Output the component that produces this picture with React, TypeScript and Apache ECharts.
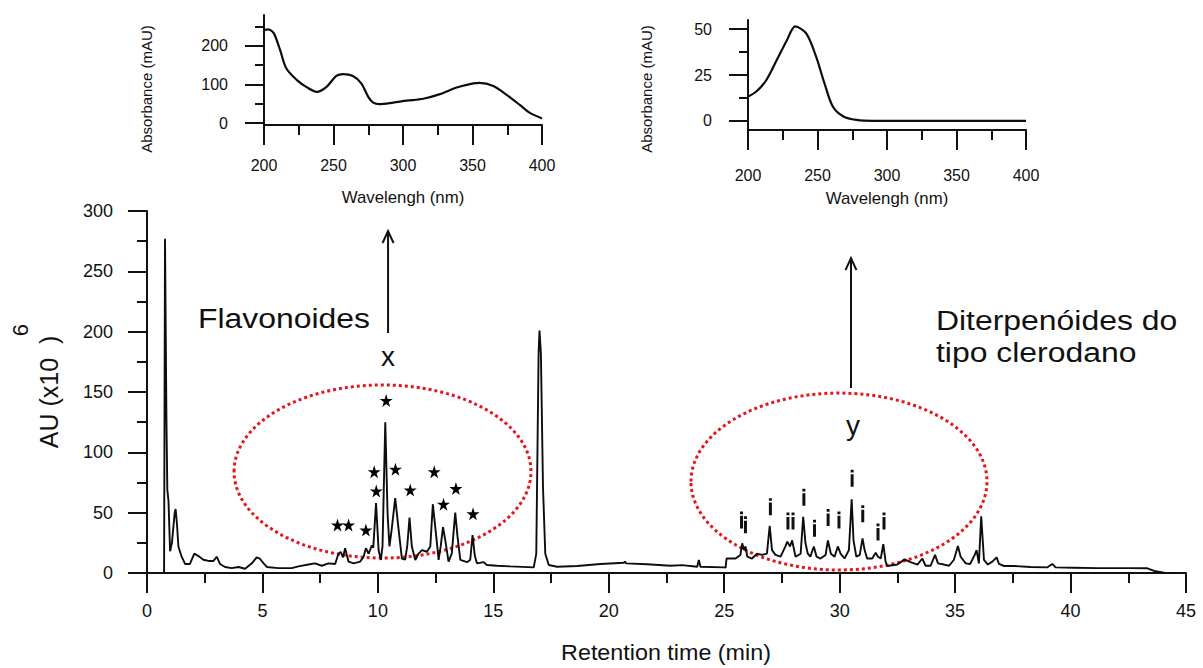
import React, { useEffect, useRef } from "react";
import * as echarts from "echarts";

// ---- Main chromatogram (retention time in min, AU x10^6) ----
const retentionTime = [
  0.74, 0.78, 0.84, 0.88, 0.93, 1.0, 1.08, 1.2, 1.24, 1.3, 1.36, 1.5, 1.65, 1.86, 2.05, 2.23, 2.44, 2.66, 2.88, 3.02,
  3.16, 3.38, 3.67, 3.96, 4.25, 4.54, 4.75, 4.88, 5.05, 5.19, 5.69, 6.27, 6.56, 6.99, 7.28, 7.57, 7.86, 8.15, 8.29, 8.39,
  8.49, 8.58, 8.73, 8.95, 9.23, 9.38, 9.48, 9.6, 9.74, 9.8, 9.92, 10.03, 10.13, 10.2, 10.32, 10.42, 10.5, 10.59, 10.75, 10.9,
  11.04, 11.18, 11.27, 11.37, 11.47, 11.62, 11.76, 11.91, 12.12, 12.27, 12.38, 12.53, 12.63, 12.72, 12.82, 12.92, 13.06, 13.2, 13.35, 13.45,
  13.57, 13.86, 14.0, 14.1, 14.2, 14.29, 14.58, 14.72, 15.16, 15.73, 16.75, 16.86, 16.96, 17.0, 17.06, 17.15, 17.25, 17.4, 17.76, 18.63,
  19.64, 20.65, 20.7, 20.75, 21.66, 22.67, 23.17, 23.83, 23.9, 23.97, 24.98, 25.06, 25.1, 25.49, 25.7, 25.78, 25.85, 25.92, 26.0, 26.2,
  26.42, 26.64, 26.85, 26.97, 27.07, 27.22, 27.44, 27.65, 27.73, 27.85, 27.94, 28.09, 28.31, 28.42, 28.52, 28.62, 28.73, 28.88, 29.0, 29.17,
  29.39, 29.49, 29.62, 29.78, 29.92, 30.04, 30.21, 30.4, 30.52, 30.6, 30.72, 30.87, 30.99, 31.08, 31.19, 31.41, 31.56, 31.66, 31.78, 31.89,
  31.99, 32.06, 32.5, 32.81, 33.07, 33.37, 33.58, 33.72, 33.94, 34.13, 34.26, 34.52, 34.74, 34.95, 35.12, 35.24, 35.46, 35.65, 35.85, 35.93,
  36.03, 36.13, 36.25, 36.42, 36.61, 36.8, 36.9, 37.12, 37.56, 38.27, 39.0, 39.21, 39.35, 40.15, 41.16, 42.6, 43.33, 43.62, 44.05, 44.48,
];
const absorbanceAU = [
  0, 277, 130, 69, 60, 18, 25, 50, 53, 40, 22, 13.5, 7.5, 7.5, 16, 14, 11, 10, 10, 13.5,
  7.5, 5, 4, 5, 3.5, 8, 13, 12, 8, 5, 4, 4, 5.5, 7, 8, 6, 8, 7.5, 16, 17.5,
  13, 20.5, 9.4, 8, 9.4, 13.5, 20.5, 16, 23, 21, 58, 19, 10.8, 22, 125, 49, 22, 35, 62, 35.6,
  12, 11, 22, 46, 22, 10.8, 16, 19, 17.6, 22, 57, 30, 10.8, 22, 38, 27, 9.4, 16, 50, 30,
  10.8, 9, 11, 31.5, 14, 8, 9, 6.6, 6, 5.5, 4.7, 16, 182, 201, 182, 71.5, 16, 6.6, 5.2, 5.8,
  7.5, 8.5, 9.5, 8, 7.2, 6, 6.5, 5.2, 10.8, 5.2, 4.7, 4.5, 12, 12, 15, 24.6, 19, 22, 13.5, 12,
  16, 15, 16, 39, 19, 15, 13.5, 22, 26, 22, 27, 13.5, 16, 46.6, 24.6, 16, 13.5, 22, 13.5, 12,
  15, 27, 16, 13.5, 22, 16, 12, 19, 61, 27, 13.5, 15, 28.7, 19, 12, 12, 16.8, 13.5, 12, 24,
  9.4, 5.8, 7, 11.3, 9, 7, 12, 6, 6, 15, 8, 7, 6, 11, 22.4, 13.5, 8, 7.5, 15, 19,
  8, 47, 10.8, 7, 9.4, 13, 7.5, 5.8, 5.8, 5, 4.7, 7.5, 4.7, 4.4, 4, 4, 3.9, 1.7, 0.3, 0,
];

// Flavonoid peak markers (stars)
const starTimes = [8.25, 8.73, 9.48, 9.84, 9.93, 10.36, 10.76, 11.4, 12.44, 12.84, 13.38, 14.12];
const starAU = [39.8, 39.8, 35.6, 84, 68, 143, 86, 68.8, 84, 57, 70, 49];

// Diterpene peak markers ("i")
const markTimes = [25.75, 25.92, 27.0, 27.76, 27.98, 28.45, 28.91, 29.5, 29.97, 30.54, 31.0, 31.66, 31.92];
const markAU = [44, 40, 55, 43, 43, 62.7, 37, 46, 44, 78.5, 49, 34, 43];

// Main axes ticks
const mainXLabels = [0, 5, 10, 15, 20, 25, 30, 35, 40, 45];
const mainYLabels = [0, 50, 100, 150, 200, 250, 300];

// ---- Inset 1 : flavonoid UV spectrum ----
const flavWavelength = [200, 203, 207, 211.5, 216, 223.5, 230.7, 238, 245, 252, 257, 264, 270, 275, 278.6, 283, 293, 302.6, 314.6, 326.6, 338.6, 350.6, 355, 365, 374.6, 384, 391, 400];
const flavAbsorbance = [241, 243, 233, 190, 142, 112, 93, 81, 94, 122, 127, 122, 103, 68, 53, 49, 53, 58, 63, 75, 92, 103, 104, 96, 73, 47, 27, 12];
const flavYLabels = [0, 100, 200];
const flavYMinor = [50, 150, 250];

// ---- Inset 2 : diterpene UV spectrum ----
const diterWavelength = [200, 206, 213, 220.6, 228, 234, 242, 249, 255, 261, 268.6, 278, 290, 320, 360, 400];
const diterAbsorbance = [13.2, 16, 22, 33, 44, 51.5, 47.6, 35, 20.5, 7.8, 2.4, 0.5, 0, 0, 0, 0];
const diterYLabels = [0, 25, 50];
const diterYMinor = [12.5, 37.5];

const FONT = 'Arial, "Liberation Sans", sans-serif';
const INK = "#111111";
const RED = "#e8141c";

const zip = (a: number[], b: number[]) => a.map((v, i) => [v, b[i]]);

const STAR = "path://M50,0 L61,35 L98,35 L68,57 L79,91 L50,70 L21,91 L32,57 L2,35 L39,35 Z";
const IMARK = "path://M0,0 L10,0 L10,16 L0,16 Z M0,26 L10,26 L10,100 L0,100 Z";

function xAxisCfg(grid: number, min: number, max: number, interval: number, margin: number, fontSize: number, labels?: number[]) {
  return {
    type: "value",
    gridIndex: grid,
    min,
    max,
    interval,
    axisLine: { show: true, onZero: false, lineStyle: { color: INK, width: 2 } },
    axisTick: { show: true, length: 20, lineStyle: { color: INK, width: 2 } },
    minorTick: { show: true, splitNumber: 2, length: 10, lineStyle: { color: INK, width: 2 } },
    axisLabel: {
      margin,
      fontSize,
      fontFamily: FONT,
      color: INK,
      ...(labels ? { customValues: labels } : {}),
    },
    splitLine: { show: false },
    minorSplitLine: { show: false },
  };
}

export default function App() {
  const ref = useRef<HTMLDivElement>(null);

  useEffect(() => {
    if (!ref.current) return;
    const chart = echarts.init(ref.current, null, { renderer: "svg" });

    const option: any = {
      animation: false,
      backgroundColor: "#ffffff",
      grid: [
        { left: 147, top: 211, width: 1039, height: 362 },
        { left: 264, top: 15, width: 278, height: 110 },
        { left: 748, top: 20, width: 278, height: 110 },
      ],
      xAxis: [
        xAxisCfg(0, 0, 45, 5, 29, 18, mainXLabels),
        xAxisCfg(1, 200, 400, 50, 32, 16),
        xAxisCfg(2, 200, 400, 50, 37, 16),
      ],
      yAxis: [
        {
          type: "value",
          gridIndex: 0,
          min: 0,
          max: 300,
          interval: 50,
          axisLine: { show: true, lineStyle: { color: INK, width: 2 } },
          axisTick: { show: true, length: 19, lineStyle: { color: INK, width: 2 } },
          minorTick: { show: true, splitNumber: 2, length: 10, lineStyle: { color: INK, width: 2 } },
          axisLabel: { margin: 34, fontSize: 18, fontFamily: FONT, color: INK, customValues: mainYLabels },
          splitLine: { show: false },
          minorSplitLine: { show: false },
        },
        {
          type: "value",
          gridIndex: 1,
          position: "left",
          min: -5,
          max: 280,
          axisLine: { show: true, lineStyle: { color: INK, width: 2 } },
          axisTick: { show: true, length: 19, customValues: flavYLabels, lineStyle: { color: INK, width: 2 } },
          axisLabel: { margin: 36, fontSize: 16, fontFamily: FONT, color: INK, customValues: flavYLabels },
          splitLine: { show: false },
        },
        {
          type: "value",
          gridIndex: 1,
          position: "left",
          offset: 0,
          min: -5,
          max: 280,
          axisLine: { show: false },
          axisTick: { show: true, length: 9, customValues: flavYMinor, lineStyle: { color: INK, width: 2 } },
          axisLabel: { show: false },
          splitLine: { show: false },
        },
        {
          type: "value",
          gridIndex: 2,
          position: "left",
          min: -5,
          max: 55,
          axisLine: { show: true, lineStyle: { color: INK, width: 2 } },
          axisTick: { show: true, length: 19, customValues: diterYLabels, lineStyle: { color: INK, width: 2 } },
          axisLabel: { margin: 36, fontSize: 16, fontFamily: FONT, color: INK, customValues: diterYLabels },
          splitLine: { show: false },
        },
        {
          type: "value",
          gridIndex: 2,
          position: "left",
          offset: 0,
          min: -5,
          max: 55,
          axisLine: { show: false },
          axisTick: { show: true, length: 9, customValues: diterYMinor, lineStyle: { color: INK, width: 2 } },
          axisLabel: { show: false },
          splitLine: { show: false },
        },
      ],
      series: [
        {
          type: "line",
          xAxisIndex: 0,
          yAxisIndex: 0,
          data: zip(retentionTime, absorbanceAU),
          showSymbol: false,
          silent: true,
          lineStyle: { color: "#0d0d0d", width: 1.9 },
        },
        {
          type: "scatter",
          xAxisIndex: 0,
          yAxisIndex: 0,
          data: zip(starTimes, starAU),
          symbol: STAR,
          symbolSize: 13,
          silent: true,
          itemStyle: { color: "#000", opacity: 1 },
        },
        {
          type: "scatter",
          xAxisIndex: 0,
          yAxisIndex: 0,
          data: zip(markTimes, markAU),
          symbol: IMARK,
          symbolSize: [3, 17],
          silent: true,
          itemStyle: { color: "#111", opacity: 1 },
        },
        {
          type: "line",
          xAxisIndex: 1,
          yAxisIndex: 1,
          data: zip(flavWavelength, flavAbsorbance),
          smooth: 0.3,
          showSymbol: false,
          silent: true,
          lineStyle: { color: "#0d0d0d", width: 2.2 },
        },
        {
          type: "line",
          xAxisIndex: 2,
          yAxisIndex: 3,
          data: zip(diterWavelength, diterAbsorbance),
          smooth: 0.3,
          showSymbol: false,
          silent: true,
          lineStyle: { color: "#0d0d0d", width: 2.2 },
        },
      ],
    };
    chart.setOption(option);

    const P = (t: number, v: number) => chart.convertToPixel({ gridIndex: 0 } as any, [t, v]) as number[];

    const ellipse = (t: number, v: number, rt: number, rv: number) => {
      const c = P(t, v);
      const e = P(t + rt, v + rv);
      return {
        type: "ellipse",
        silent: true,
        shape: { cx: c[0], cy: c[1], rx: e[0] - c[0], ry: c[1] - e[1] },
        style: { fill: "none", stroke: RED, lineWidth: 3, lineDash: [3, 3] },
      };
    };
    const arrow = (t: number, v0: number, v1: number) => {
      const a = P(t, v0);
      const b = P(t, v1);
      return [
        { type: "line", silent: true, shape: { x1: a[0], y1: a[1], x2: b[0], y2: b[1] }, style: { stroke: "#111", lineWidth: 2 } },
        {
          type: "polyline",
          silent: true,
          shape: { points: [[b[0] - 5.5, b[1] + 12], [b[0], b[1]], [b[0] + 5.5, b[1] + 12]] },
          style: { stroke: "#111", lineWidth: 2, fill: "none" },
        },
      ];
    };
    const label = (t: number, v: number, text: string, align: string, fontSize: number, scaleX = 1) => {
      const p = P(t, v);
      return {
        type: "text",
        silent: true,
        x: p[0],
        y: p[1],
        scaleX,
        style: { text, fontSize, fontFamily: FONT, fill: "#111", align, verticalAlign: "middle" },
      };
    };
    const fixedText = (x: number, y: number, text: string, fontSize: number, rotation = 0, scaleX = 1) => ({
      type: "text",
      silent: true,
      x,
      y,
      rotation,
      scaleX,
      style: { text, fontSize, fontFamily: FONT, fill: "#111", align: "center", verticalAlign: "middle" },
    });

    chart.setOption({
      graphic: [
        ellipse(10.2, 84.1, 6.43, 71.7),
        ellipse(29.97, 75.8, 6.41, 73.3),
        ...arrow(10.44, 198.9, 283.4),
        ...arrow(30.49, 153.3, 261),
        label(9.66, 211.3, "Flavonoides", "right", 28, 1.14),
        label(10.44, 179.8, "x", "center", 28),
        label(30.58, 122.6, "y", "center", 28),
        label(34.17, 209.7, "Diterpenóides do", "left", 28, 1.14),
        label(34.17, 183.1, "tipo clerodano", "left", 28, 1.14),
        fixedText(49, 392, "AU (x10  )", 25, Math.PI / 2),
        fixedText(20, 330, "6", 22, Math.PI / 2),
        fixedText(666, 652, "Retention time (min)", 22, 0, 1.06),
        fixedText(403, 197, "Wavelengh (nm)", 16, 0, 1.05),
        fixedText(887, 198, "Wavelengh (nm)", 16, 0, 1.05),
        fixedText(146, 89, "Absorbance (mAU)", 15, Math.PI / 2),
        fixedText(646, 89, "Absorbance (mAU)", 15, Math.PI / 2),
      ],
    });

    return () => chart.dispose();
  }, []);

  return (
    <div
      ref={ref}
      style={{ position: "fixed", left: 0, top: 0, width: 1203, height: 668, background: "#ffffff" }}
    />
  );
}
